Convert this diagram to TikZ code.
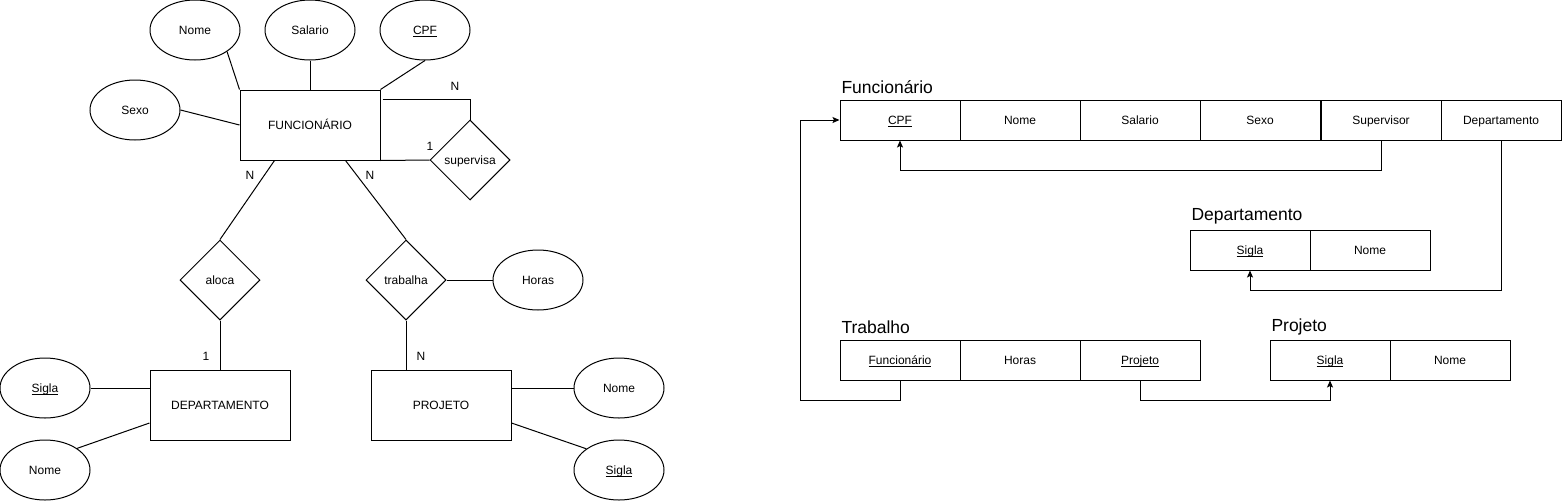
\documentclass[tikz,border=0pt]{standalone}
\usepackage{fontspec}
\setmainfont{Liberation Sans}
\usetikzlibrary{shapes.geometric,arrows.meta,calc}
\newcommand{\myul}[1]{\setbox0\hbox{#1}\rlap{\smash{\vrule width\wd0 height -1.4pt depth 2.3pt}}\box0}
\begin{document}
\begin{tikzpicture}[x=1pt,y=-1pt, line width=1pt,
  every node/.style={font=\fontsize{12}{14}\selectfont},
  txt/.style={text height=9pt, text depth=0.4pt},
  attr/.style={draw, ellipse, minimum width=90pt, minimum height=60pt, inner sep=0pt, fill=white, txt},
  ent/.style={draw, rectangle, minimum width=140pt, minimum height=70pt, inner sep=0pt, txt},
  rel/.style={draw, diamond, minimum width=80pt, minimum height=80pt, inner sep=0pt, aspect=1, txt},
  card/.style={inner sep=0pt, txt},
  cell/.style={draw, rectangle, minimum width=120pt, minimum height=40pt, inner sep=0pt, txt},
  ttl/.style={anchor=west, inner sep=0pt, font=\fontsize{17.5}{20}\selectfont},
  fk/.style={-{Stealth[length=7pt,width=6pt,inset=1.5pt]}}
]
\fill[white] (0,0) rectangle (1562,501);
\useasboundingbox (0,0) rectangle (1562,501);

% ---------- ER diagram ----------
\node[ent] (func) at (310,125) {FUNCIONÁRIO};
\node[attr] (nome) at (195,30) {Nome};
\node[attr] (sal) at (310,30) {Salario};
\node[attr] (cpf) at (425,30) {\myul{CPF}};
\node[attr] (sexo) at (135,110) {Sexo};
\node[rel] (sup) at (470,160) {supervisa};
\node[rel] (aloca) at (220,280) {aloca};
\node[rel] (trab) at (406,280) {trabalha};
\node[attr] (horas) at (538,280) {Horas};
\node[ent] (dept) at (220,405) {DEPARTAMENTO};
\node[ent] (proj) at (441,405) {PROJETO};
\node[attr] (siglaL) at (45,388) {\myul{Sigla}};
\node[attr] (nomeL) at (45,470) {Nome};
\node[attr] (nomeR) at (619,388) {Nome};
\node[attr] (siglaR) at (619,470) {\myul{Sigla}};

\draw (nome.-34) -- (func.north west);
\draw (sal.south) -- (sal.south |- func.north);
\draw (cpf.south) -- (func.north east);
\draw (sexo.east) -- (func.west);
\coordinate (supstart) at ($(func.north east)+(2,10)$);
\draw (supstart) -| (sup.north);
\draw (func.south east) -- (sup.west);
\coordinate (fa) at ($(func.south west)+(35,0)$);
\coordinate (ft) at ($(func.south east)+(-35,0)$);
\draw (fa) -- (aloca.north);
\draw (ft) -- (trab.north);
\draw (aloca.south) -- (dept.north);
\draw (trab.south) -- (trab.south |- proj.north);
\draw (trab.east) -- (horas.west);
\draw (siglaL.east) -- (siglaL.east -| dept.west);
\draw (nomeL.34) -- ($(dept.west)+(0,18)$);
\draw (proj.east |- nomeR.west) -- (nomeR.west);
\draw ($(proj.east)+(0,18)$) -- (siglaR.147);

\node[card] (cN1) at (455,86) {N};
\node[card] (c11) at (430,146) {1};
\node[card] (cN2) at (250,175) {N};
\node[card] (cN3) at (370,175) {N};
\node[card] (c12) at (206,356) {1};
\node[card] (cN4) at (421,356) {N};

% ---------- Relational schema ----------
\node[ttl] (tF) at (841,87) {Funcionário};
\node[cell] (fCPF) at (900,120) {\myul{CPF}};
\node[cell] (fNom) at (1020,120) {Nome};
\node[cell] (fSal) at (1140,120) {Salario};
\node[cell] (fSex) at (1260,120) {Sexo};
\node[cell] (fSup) at (1381,120) {Supervisor};
\node[cell] (fDep) at (1501,120) {Departamento};

\node[ttl] (tD) at (1191,216) {Departamento};
\node[cell] (dSig) at (1250,250) {\myul{Sigla}};
\node[cell] (dNom) at (1370,250) {Nome};

\node[ttl] (tT) at (841,327) {Trabalho};
\node[cell] (tFun) at (900,360) {\myul{Funcionário}};
\node[cell] (tHor) at (1020,360) {Horas};
\node[cell] (tPro) at (1140,360) {\myul{Projeto}};

\node[ttl] (tP) at (1271,327) {Projeto};
\node[cell] (pSig) at (1330,360) {\myul{Sigla}};
\node[cell] (pNom) at (1450,360) {Nome};

\coordinate (lk) at (800,120);
\draw[fk] (fSup.south) -- ++(0,30) -| (fCPF.south);
\draw[fk] (fDep.south) -- ++(0,150) -| (dSig.south);
\draw[fk] (tFun.south) -- ++(0,20) -| (lk) -- (fCPF.west);
\draw[fk] (tPro.south) -- ++(0,20) -| (pSig.south);
\end{tikzpicture}
\end{document}
